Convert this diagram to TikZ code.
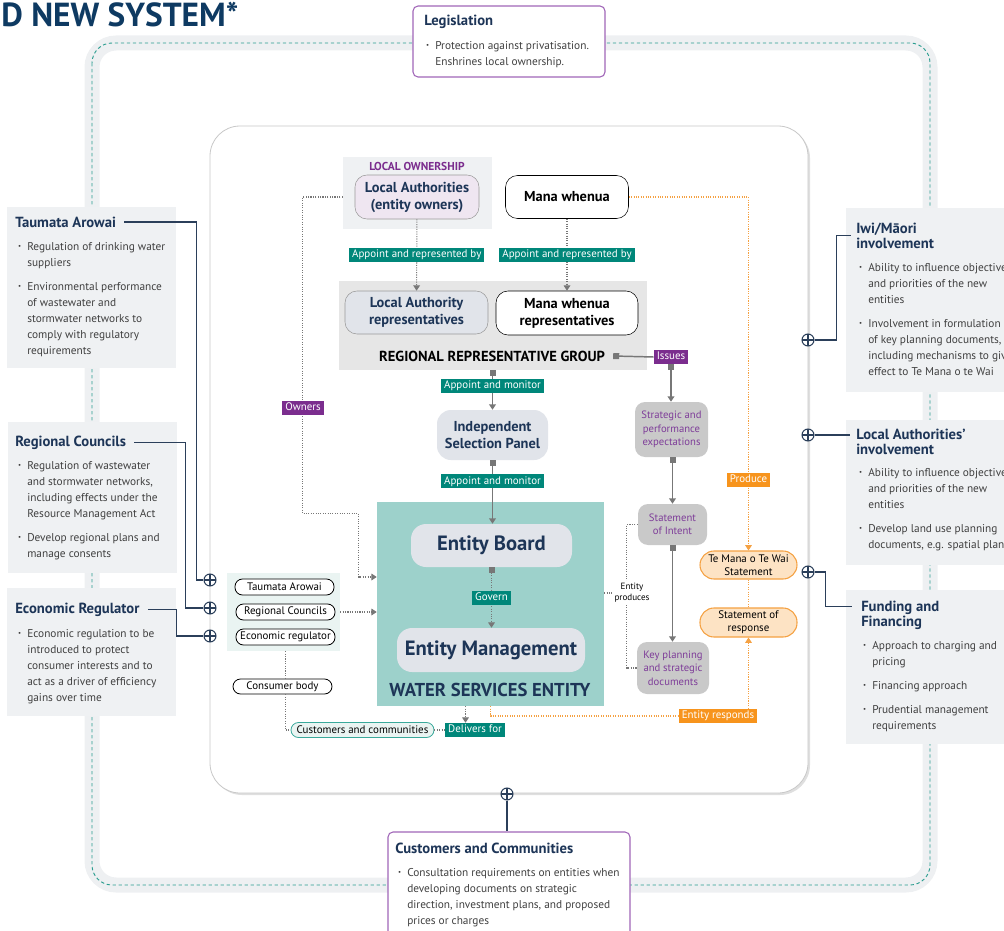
\documentclass[tikz,border=0pt]{standalone}
\usepackage{fontspec}
\usepackage{graphicx}
\setmainfont{PT Sans}
\usetikzlibrary{positioning, arrows.meta, shadows, calc}

\definecolor{titlenavy}{HTML}{0E3A62}
\definecolor{navy}{HTML}{1D3557}
\definecolor{linknavy}{HTML}{2B3F5A}
\definecolor{bodytext}{HTML}{404040}
\definecolor{boxgrey}{HTML}{EFF1F3}
\definecolor{bandgrey}{HTML}{EEF0F2}
\definecolor{bandteal}{HTML}{2A9D8F}
\definecolor{cardpurple}{HTML}{A066B8}
\definecolor{tagteal}{HTML}{00877A}
\definecolor{tagpurple}{HTML}{7B2D8E}
\definecolor{tagorange}{HTML}{F7941D}
\definecolor{procpurple}{HTML}{7E3D99}
\definecolor{lavender}{HTML}{EFE6F1}
\definecolor{nodegrey}{HTML}{E1E4EA}
\definecolor{edgegrey}{HTML}{9A9A9A}
\definecolor{rrggrey}{HTML}{E6E6E6}
\definecolor{procgrey}{HTML}{C9C9C9}
\definecolor{wsefill}{HTML}{9DD1CB}
\definecolor{regfill}{HTML}{EAF4F2}
\definecolor{custedge}{HTML}{3AA99B}
\definecolor{orangefill}{HTML}{FDE3C4}
\definecolor{orangeedge}{HTML}{F5A142}
\definecolor{linkgrey}{HTML}{777777}
\definecolor{coreedge}{HTML}{C8C8C8}

\newdimen\pxu \pxu=0.75pt
\newcommand{\bodyfont}{\fontsize{8.5}{12}\selectfont}
\newcommand{\bul}{\strut\llap{\raisebox{1.4pt}{\scalebox{0.6}{\textbullet}}\hspace{4.5pt}}}

\begin{document}
\begin{tikzpicture}
[
x=0.75pt, y=-0.75pt,
box-wh/.style 2 args={minimum width=#1\pxu, minimum height=#2\pxu},
side-box/.style={fill=boxgrey, inner sep=0pt},
card/.style={fill=white, draw=cardpurple, line width=0.8pt, rounded corners=5\pxu, inner sep=0pt},
side-title/.style={inner sep=0pt, text=navy, font=\bfseries\fontsize{11}{11.25}\selectfont},
side-text/.style={anchor=north west, inner sep=0pt, align=left, text=bodytext, font=\bodyfont},
plug/.style={circle, draw=linknavy, fill=white, line width=0.8pt, minimum size=12\pxu, inner sep=0pt,
  path picture={\draw[linknavy, line width=0.8pt] (path picture bounding box.north) -- (path picture bounding box.south) (path picture bounding box.west) -- (path picture bounding box.east);}},
navy-link/.style={draw=linknavy, line width=1pt},
panel/.style={inner sep=0pt},
soft-node/.style={rounded corners=12\pxu, inner sep=0pt, align=center, font=\bfseries\fontsize{10.8}{12.75}\selectfont},
proc-node/.style={fill=procgrey, rounded corners=10\pxu, inner sep=0pt, align=center, text=procpurple, font=\fontsize{8}{10}\selectfont},
doc-node/.style={fill=orangefill, draw=orangeedge, line width=0.8pt, rounded corners=14\pxu, inner sep=0pt, align=center, font=\fontsize{8.2}{10}\selectfont},
pill/.style={fill=white, draw=black, line width=0.6pt, rounded corners=7.5\pxu, inner sep=0pt, font=\fontsize{8.2}{9}\selectfont},
tag-base/.style={text=white, inner xsep=2.2pt, inner ysep=0pt, minimum height=14\pxu, text height=6pt, text depth=1.7pt, font=\fontsize{8.2}{9}\selectfont},
tag-teal/.style={tag-base, fill=tagteal},
tag-purple/.style={tag-base, fill=tagpurple},
tag-orange/.style={tag-base, fill=tagorange},
grey-link/.style={draw=linkgrey, line width=1.1pt},
dot-link/.style={draw=linkgrey, densely dotted, line width=0.8pt},
orange-link/.style={draw=orangeedge, densely dotted, line width=0.8pt},
to-tri/.style={-{Triangle[width=5pt,length=4pt]}},
sq-tri/.style={{Square[width=4.5pt,length=4.5pt]}-{Triangle[width=5pt,length=4pt]}}
]

\useasboundingbox (0,0) rectangle (1004,931);

% outer ring
\draw [bandgrey, line width=15\pxu, rounded corners=24\pxu] (92,43) rectangle (930,885);
\draw [bandteal, dash pattern=on 2.5pt off 2pt, line width=0.7pt, rounded corners=20\pxu] (92,43) rectangle (930,885);

\node (headline) [anchor=west, inner sep=0pt, text=titlenavy, font=\bfseries\fontsize{25}{28}\selectfont] at (1,15) {D NEW SYSTEM*};

% core
\node (core) [draw=coreedge, fill=white, line width=0.6pt, rounded corners=30\pxu, box-wh={598}{667}, drop shadow={opacity=0.25, shadow xshift=1.5pt, shadow yshift=-1.5pt}] at (509,459.5) {};

% legislation
\node (leg-box)   [card, box-wh={192}{71}]          at (509,41.5) {};
\node (leg-title) [side-title, anchor=base west]    at (424,26)   {Legislation};
\node (leg-text)  [side-text]                       at (435,38.3) {\bul Protection against privatisation.\\Enshrines local ownership.};

% left side
\node (ta-box)    [side-box, box-wh={169}{161}]     at (91.5,287.5) {};
\node (ta-title)  [side-title, anchor=base west]    at (15,227)     {Taumata Arowai};
\node (ta-text)   [side-text]                       at (27,239.3)   {\bul Regulation of drinking water\\suppliers\\[6pt]\bul Environmental performance\\of wastewater and\\stormwater networks to\\comply with regulatory\\requirements};
\node (rc-box)    [side-box, box-wh={169}{151}]     at (92.5,497.5) {};
\node (rc-title)  [side-title, anchor=base west]    at (15,446)     {Regional Councils};
\node (rc-text)   [side-text]                       at (27,458.3)   {\bul Regulation of wastewater\\and stormwater networks,\\including effects under the\\Resource Management Act\\[6pt]\bul Develop regional plans and\\manage consents};
\node (er-box)    [side-box, box-wh={169}{128}]     at (91.5,652)   {};
\node (er-title)  [side-title, anchor=base west]    at (15,613)     {Economic Regulator};
\node (er-text)   [side-text]                       at (27,626.3)   {\bul Economic regulation to be\\introduced to protect\\consumer interests and to\\act as a driver of efficiency\\gains over time};

% right side
\node (iwi-box)   [side-box, box-wh={164}{184}]     at (928,300)    {};
\node (iwi-title) [side-title, anchor=north west, align=left] at (856,222.6) {Iwi/Māori\\involvement};
\node (iwi-text)  [side-text]                       at (868,260.3)  {\bul Ability to influence objectives\\and priorities of the new\\entities\\[6pt]\bul Involvement in formulation\\of key planning documents,\\including mechanisms to give\\effect to Te Mana o te Wai};
\node (lai-box)   [side-box, box-wh={164}{145}]     at (928,492.5)  {};
\node (lai-title) [side-title, anchor=north west, align=left] at (856,428.6) {Local Authorities’\\involvement};
\node (lai-text)  [side-text]                       at (868,465.3)  {\bul Ability to influence objectives\\and priorities of the new\\entities\\[6pt]\bul Develop land use planning\\documents, e.g. spatial plans};
\node (fund-box)  [side-box, box-wh={164}{154}]     at (928,667)    {};
\node (fund-title)[side-title, anchor=north west, align=left] at (861,600.6) {Funding and\\Financing};
\node (fund-text) [side-text]                       at (872,638.3)  {\bul Approach to charging and\\pricing\\[6pt]\bul Financing approach\\[6pt]\bul Prudential management\\requirements};

% bottom
\node (cc-box)    [card, box-wh={242}{113}]         at (509,888.5)  {};
\node (cc-title)  [side-title, anchor=base west]    at (395,853)    {Customers and Communities};
\node (cc-text)   [side-text]                       at (407,865.3)  {\bul Consultation requirements on entities when\\developing documents on strategic\\direction, investment plans, and proposed\\prices or charges};

% plugs on the core
\node (plug-ta)   [plug] at (210,580) {};
\node (plug-rc)   [plug] at (210,608) {};
\node (plug-er)   [plug] at (210,636) {};
\node (plug-iwi)  [plug] at (808,340) {};
\node (plug-lai)  [plug] at (808,435) {};
\node (plug-fund) [plug] at (808,572) {};
\node (plug-cc)   [plug] at (507,794) {};

\draw [navy-link] ([xshift=8\pxu]ta-title.east) -| ($(plug-ta.west)+(-7,0)$) -- (plug-ta.west);
\draw [navy-link] ([xshift=8\pxu]rc-title.east) -| ($(plug-rc.west)+(-18,0)$) -- (plug-rc.west);
\draw [navy-link] ([xshift=8\pxu]er-title.east) -| ($(plug-er.west)+(-27,0)$) -- (plug-er.west);
\draw [navy-link] (plug-iwi.east) -- ++(22,0) |- ([xshift=-5\pxu]iwi-title.west);
\draw [navy-link] (plug-lai.east) -- ([xshift=-6\pxu]lai-title.west |- plug-lai);
\draw [navy-link] (plug-fund.east) -- ++(11,0) |- ($(fund-title.north west)+(-9,6)$);
\draw [navy-link] (plug-cc.south) -- (plug-cc.south |- cc-box.north);

% local ownership and regional group
\node (lo-panel)  [panel, fill=boxgrey, box-wh={149}{72}] at (417.5,193) {};
\node (lo-label)  [inner sep=0pt, text=tagpurple, font=\bfseries\fontsize{8.6}{10}\selectfont] at (417,166) {LOCAL OWNERSHIP};
\node (la-owners) [soft-node, fill=lavender, draw=edgegrey, text=navy, box-wh={124}{44}] at (417,197) {Local Authorities\\(entity owners)};
\node (mw)        [soft-node, fill=white, draw=black, box-wh={123}{43}] at (567,197) {Mana whenua};
\node (rrg-panel) [panel, fill=rrggrey, box-wh={308}{89}] at (493,325.5) {};
\node (la-rep)    [soft-node, fill=nodegrey, draw=edgegrey, text=navy, box-wh={143}{43}] at (416.5,312.5) {Local Authority\\representatives};
\node (mw-rep)    [soft-node, fill=white, draw=black, box-wh={142}{44}] at (567,313) {Mana whenua\\representatives};
\node (rrg-title) [inner sep=0pt, font=\bfseries\fontsize{10.9}{12}\selectfont] at (492,356) {REGIONAL REPRESENTATIVE GROUP};

\draw [dot-link, to-tri] (la-owners) -- (la-rep) node (app-la) [tag-teal, pos=0.5] {Appoint and represented by};
\draw [dot-link, to-tri] (mw) -- (mw-rep) node (app-mw) [tag-teal, pos=0.5] {Appoint and represented by};

% selection panel and entity
\node (isp)       [soft-node, fill=nodegrey, rounded corners=14\pxu, text=navy, box-wh={111}{50}] at (492.5,435) {Independent\\Selection Panel};
\node (wse)       [panel, fill=wsefill, box-wh={227}{204}] at (490.5,604) {};
\node (board)     [soft-node, fill=nodegrey, rounded corners=15\pxu, text=navy, font=\bfseries\fontsize{15.5}{17}\selectfont, box-wh={161}{43}] at (491.5,545.5) {Entity Board};
\node (mgmt)      [soft-node, fill=nodegrey, rounded corners=15\pxu, text=navy, font=\bfseries\fontsize{15.5}{17}\selectfont, box-wh={188}{44}] at (491,650) {Entity Management};
\node (wse-title) [inner sep=0pt, text=navy, font=\bfseries\fontsize{14}{16}\selectfont] at (490,690) {WATER SERVICES ENTITY};

\draw [grey-link, sq-tri] (rrg-panel.south -| isp) -- (isp.north) node (am1) [tag-teal, pos=0.4] {Appoint and monitor};
\draw [grey-link, sq-tri] (isp.south) -- (isp.south |- board.north) node (am2) [tag-teal, pos=0.33] {Appoint and monitor};
\draw [dot-link, sq-tri] (board.south) -- (board.south |- mgmt.north) node (govern) [tag-teal, pos=0.5] {Govern};

% expectations chain
\node (issues)    [tag-purple] at (671,357) {Issues};
\node (strat)     [proc-node, box-wh={73}{55}] at (671.5,429.5) {Strategic and\\performance\\expectations};
\node (soi)       [proc-node, box-wh={69}{41}] at (672.5,524.5) {Statement\\of Intent};
\node (kpd)       [proc-node, box-wh={72}{52}] at (673,668) {Key planning\\and strategic\\documents};

\draw [grey-link, {Square[width=4.5pt,length=4.5pt]}-] ([xshift=6pt]rrg-title.east) -- (issues.west);
\draw [grey-link, sq-tri] (issues.south) -- (issues.south |- strat.north);
\draw [grey-link, sq-tri] (strat.south -| soi) -- (soi.north);
\draw [grey-link, sq-tri] (soi.south) -- (soi.south |- kpd.north);

\draw [dot-link] (soi.west) -- ++(-11,0) |- (kpd.west);
\node (produces)  [fill=white, inner sep=1.5pt, align=center, font=\fontsize{6.8}{8.5}\selectfont] at (632,593) {Entity\\produces};
\draw [dot-link] (produces.west -| wse.east) -- (produces.west);

% te mana o te wai
\node (tmtw)      [doc-node, box-wh={97}{28}] at (748.5,565) {Te Mana o Te Wai\\Statement};
\node (sor)       [doc-node, box-wh={97}{29}] at (748.5,622.5) {Statement of\\response};
\node (responds)  [tag-orange] at (718,716) {Entity responds};

\draw [orange-link, to-tri] (mw.east) -| (tmtw.north) node (produce) [tag-orange, pos=0.9] {Produce};
\draw [orange-link] (tmtw.south) -- (sor.north);
\draw [orange-link] (wse.south) |- (responds.west);
\draw [orange-link, to-tri] (responds.north -| sor.south) -- (sor.south);

% owners
\draw [dot-link, to-tri] (lo-panel.west |- la-owners) -- ++(-40,0) |- ($(wse.north west)+(-18,12)$) |- ($(wse.west)+(0,-27)$);
\node (owners)    [tag-purple] at (303,408) {Owners};

% regulators and customers
\node (reg-panel) [panel, fill=regfill, box-wh={113}{78}] at (283.5,612) {};
\node (pill-ta)   [pill, box-wh={99}{16}] at (284.5,587) {Taumata Arowai};
\node (pill-rc)   [pill, box-wh={99}{16}] at (285.5,612) {Regional Councils};
\node (pill-er)   [pill, box-wh={99}{16}] at (285.5,637) {Economic regulator};
\node (consumer)  [pill, box-wh={99}{15}] at (282.5,686.5) {Consumer body};
\node (cust)      [pill, fill=regfill, draw=custedge, box-wh={143}{15}] at (362.5,730) {Customers and communities};
\node (delivers)  [tag-teal] at (475,730) {Delivers for};

\draw [dot-link, to-tri] (reg-panel.east) -- (reg-panel.east -| wse.west);
\draw [dot-link] (reg-panel.south -| pill-er) -- (consumer.north -| pill-er);
\draw [dot-link] (consumer.south -| pill-er) |- (cust.west);
\draw [dot-link] (cust.east) -- (delivers.west);
\draw [dot-link, to-tri] ($(wse.south)+(-25,0)$) coordinate (wse-out) -- (wse-out |- delivers.north);

\end{tikzpicture}
\end{document}
